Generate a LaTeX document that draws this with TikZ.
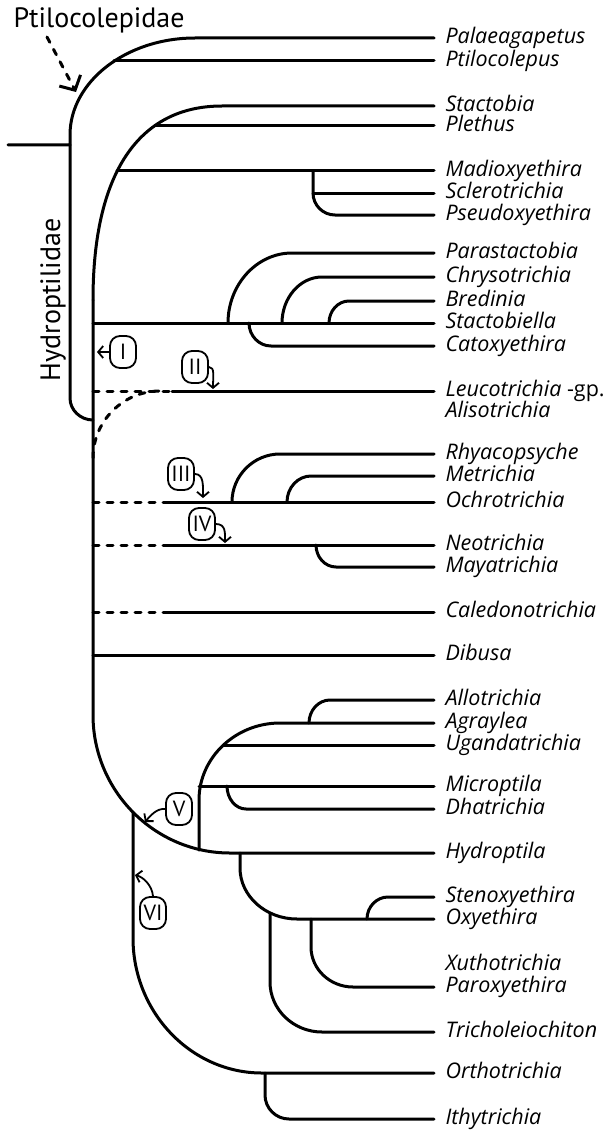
\documentclass[tikz,border=0pt]{standalone}
\usepackage{fontspec}
\setmainfont{PT Sans}
\newfontfamily\taxonfont{Open Sans}
\usetikzlibrary{calc,arrows.meta}

\begin{document}
\begin{tikzpicture}[x=1pt, y=-1pt, line join=round, line cap=round, line width=3pt,
    taxon/.style={anchor=west, inner xsep=10pt, inner ysep=0pt, text height=15pt, text depth=4.5pt, font=\taxonfont\itshape\fontsize{21.5}{25}\selectfont},
    clade/.style={inner sep=0pt, font=\fontsize{28}{32}\selectfont},
    numbox/.style={draw, line width=1.8pt, rounded corners=10pt, minimum width=26pt, minimum height=32pt, inner xsep=3pt, inner ysep=0pt, font=\fontsize{22}{26}\selectfont},
    pointer/.style={line width=1.8pt, -{Straight Barb[length=5pt,width=12pt]}},
    unsure/.style={dash pattern=on 6pt off 8pt},
    elbow/.style={to path={.. controls ($(\tikztostart)!#1!(\tikztostart|-\tikztotarget)$) and ($(\tikztotarget)!#1!(\tikztostart|-\tikztotarget)$) .. (\tikztotarget)}},
    elbow/.default=0.55]
\useasboundingbox (0,0) rectangle (604,1134);
% taxa
\node[taxon] (Pal) at (434,38) {Palaeagapetus};
\node[taxon] (Pti) at (434,61) {Ptilocolepus};
\node[taxon] (Sta) at (434,106) {Stactobia};
\node[taxon] (Ple) at (434,126) {Plethus};
\node[taxon] (Mad) at (434,171) {Madioxyethira};
\node[taxon] (Scl) at (434,193) {Sclerotrichia};
\node[taxon] (Pse) at (434,215) {Pseudoxyethira};
\node[taxon] (Par) at (434,253) {Parastactobia};
\node[taxon] (Chr) at (434,277) {Chrysotrichia};
\node[taxon] (Bre) at (434,301) {Bredinia};
\node[taxon] (Stb) at (434,323) {Stactobiella};
\node[taxon] (Cat) at (434,346) {Catoxyethira};
\node[taxon] (Leu) at (434,391) {Leucotrichia \upshape-gp.};
\node[taxon] (Ali) at (434,412) {Alisotrichia};
\node[taxon] (Rhy) at (434,454) {Rhyacopsyche};
\node[taxon] (Met) at (434,476) {Metrichia};
\node[taxon] (Och) at (434,502) {Ochrotrichia};
\node[taxon] (Neo) at (434,545) {Neotrichia};
\node[taxon] (May) at (434,567) {Mayatrichia};
\node[taxon] (Cal) at (434,612) {Caledonotrichia};
\node[taxon] (Dib) at (434,655) {Dibusa};
\node[taxon] (All) at (434,700) {Allotrichia};
\node[taxon] (Agr) at (434,723) {Agraylea};
\node[taxon] (Uga) at (434,745) {Ugandatrichia};
\node[taxon] (Mic) at (434,786) {Microptila};
\node[taxon] (Dha) at (434,809) {Dhatrichia};
\node[taxon] (Hyd) at (434,853) {Hydroptila};
\node[taxon] (Ste) at (434,897) {Stenoxyethira};
\node[taxon] (Oxy) at (434,919) {Oxyethira};
\node[taxon] (Xut) at (434,965) {Xuthotrichia};
\node[taxon] (Pao) at (434,987) {Paroxyethira};
\node[taxon] (Tri) at (434,1032) {Tricholeiochiton};
\node[taxon] (Ort) at (434,1073) {Orthotrichia};
\node[taxon] (Ith) at (434,1119) {Ithytrichia};
% branch points
\coordinate (R0) at (8,145);
\coordinate (R1) at (70,145);
\coordinate (P0) at (70,135);
\coordinate (P1) at (195,38);
\coordinate (P2) at (114,61);
\coordinate (B0) at (70,398);
\coordinate (B1) at (93,420);
\coordinate (H0) at (93,300);
\coordinate (H1) at (222,106);
\coordinate (H2) at (155,126);
\coordinate (H3) at (117,171);
\coordinate (H4) at (93,715);
\coordinate (H5) at (230,853);
\coordinate (H6) at (133,812);
\coordinate (H7) at (199,850);
\coordinate (M0) at (313,171);
\coordinate (M1) at (313,193);
\coordinate (M2) at (335,215);
\coordinate (S0) at (93,323);
\coordinate (T0) at (228,323);
\coordinate (T1) at (292,253);
\coordinate (T2) at (282,323);
\coordinate (T3) at (322,277);
\coordinate (T4) at (329,323);
\coordinate (T5) at (349,301);
\coordinate (T6) at (249,323);
\coordinate (T7) at (271,346);
\coordinate (L0) at (93,391);
\coordinate (L1) at (172,391);
\coordinate (A0) at (93,458);
\coordinate (A1) at (160,391);
\coordinate (O0) at (93,502);
\coordinate (O1) at (166,502);
\coordinate (Q0) at (232,502);
\coordinate (Q1) at (280,454);
\coordinate (Q2) at (287,502);
\coordinate (Q3) at (311,476);
\coordinate (N0) at (93,545);
\coordinate (N1) at (166,545);
\coordinate (U0) at (316,545);
\coordinate (U1) at (336,567);
\coordinate (C0) at (93,612);
\coordinate (C1) at (166,612);
\coordinate (D0) at (93,655);
\coordinate (K0) at (199,800);
\coordinate (K1) at (280,723);
\coordinate (K2) at (223,745);
\coordinate (K3) at (199,786);
\coordinate (K4) at (309,723);
\coordinate (K5) at (330,700);
\coordinate (K6) at (227,786);
\coordinate (K7) at (246,809);
\coordinate (E0) at (240,853);
\coordinate (E1) at (240,868);
\coordinate (E2) at (297,919);
\coordinate (E3) at (270,913);
\coordinate (E4) at (270,982);
\coordinate (E5) at (322,1032);
\coordinate (E6) at (367,919);
\coordinate (E7) at (388,897);
\coordinate (E8) at (311,919);
\coordinate (E9) at (311,947);
\coordinate (E10) at (353,987);
\coordinate (V0) at (133,938);
\coordinate (V1) at (262,1073);
\coordinate (V2) at (265,1073);
\coordinate (V3) at (265,1095);
\coordinate (V4) at (289,1119);
% root and Ptilocolepidae
\draw (R0) -- (R1) -- (P0) to[elbow] (P1) -- (Pal.west);
\draw (P2) -- (Pti.west);
\draw (R1) -- (B0) to[elbow] (B1);
% Hydroptilidae stem
\draw (H0) to[elbow=0.65] (H1) -- (Sta.west);
\draw (H0) -- (H4) to[elbow] (H5) -- (Hyd.west);
\draw (H2) -- (Ple.west);
\draw (H3) -- (Mad.west);
\draw (M0) -- (M1) to[elbow] (M2) -- (Pse.west);
\draw (M1) -- (Scl.west);
\draw (S0) -- (Stb.west);
\draw (T0) to[elbow] (T1) -- (Par.west);
\draw (T2) to[elbow] (T3) -- (Chr.west);
\draw (T4) to[elbow] (T5) -- (Bre.west);
\draw (T6) to[elbow] (T7) -- (Cat.west);
\draw[unsure] (L0) -- (L1);
\draw[unsure] (A0) to[elbow] (A1);
\draw (L1) -- (Leu.west);
\draw[unsure] (O0) -- (O1);
\draw (O1) -- (Och.west);
\draw (Q0) to[elbow] (Q1) -- (Rhy.west);
\draw (Q2) to[elbow] (Q3) -- (Met.west);
\draw[unsure] (N0) -- (N1);
\draw (N1) -- (Neo.west);
\draw (U0) to[elbow] (U1) -- (May.west);
\draw[unsure] (C0) -- (C1);
\draw (C1) -- (Cal.west);
\draw (D0) -- (Dib.west);
% Hydroptila group
\draw (H7) -- (K0) to[elbow] (K1) -- (Agr.west);
\draw (K2) -- (Uga.west);
\draw (K3) -- (Mic.west);
\draw (K4) to[elbow] (K5) -- (All.west);
\draw (K6) to[elbow] (K7) -- (Dha.west);
\draw (E0) -- (E1) to[elbow] (E2) -- (Oxy.west);
\draw (E3) -- (E4) to[elbow] (E5) -- (Tri.west);
\draw (E6) to[elbow] (E7) -- (Ste.west);
\draw (E8) -- (E9) to[elbow] (E10) -- (Pao.west);
\draw (H6) -- (V0) to[elbow] (V1) -- (Ort.west);
\draw (V2) -- (V3) to[elbow] (V4) -- (Ith.west);
% family names
\node[clade, anchor=base west] (Ptc) at (12,28) {Ptilocolepidae};
\node[clade, anchor=base, rotate=90] (Hyc) at (60,300) {Hydroptilidae};
\coordinate (aP0) at (47,37);
\coordinate (aP1) at (76,92);
\draw[unsure, -{Straight Barb[length=11pt,width=24pt]}] (aP0) -- (aP1);
% numbered marks
\node[numbox] (nI) at (123,352) {I};
\node[numbox] (nII) at (195,367) {II};
\node[numbox] (nIII) at (181,474) {III};
\node[numbox] (nIV) at (202,524) {IV};
\node[numbox] (nV) at (179,809) {V};
\node[numbox] (nVI) at (153,913) {VI};
\coordinate (aI) at (97,352);
\coordinate (aII) at (213,389);
\coordinate (aIII) at (203,498);
\coordinate (aIV) at (225,543);
\coordinate (aV) at (145,822);
\coordinate (aVI) at (135,875);
\draw[pointer] (nI) -- (aI);
\draw[pointer] (nII.east) .. controls (215,367) and (213,376) .. (aII);
\draw[pointer] (nIII.east) .. controls (204,474) and (203,486) .. (aIII);
\draw[pointer] (nIV.east) .. controls (226,524) and (225,533) .. (aIV);
\draw[pointer] (nV.west) .. controls (157,808) and (150,816) .. (aV);
\draw[pointer] (nVI.north) .. controls (152,885) and (143,877) .. (aVI);
\end{tikzpicture}
\end{document}
